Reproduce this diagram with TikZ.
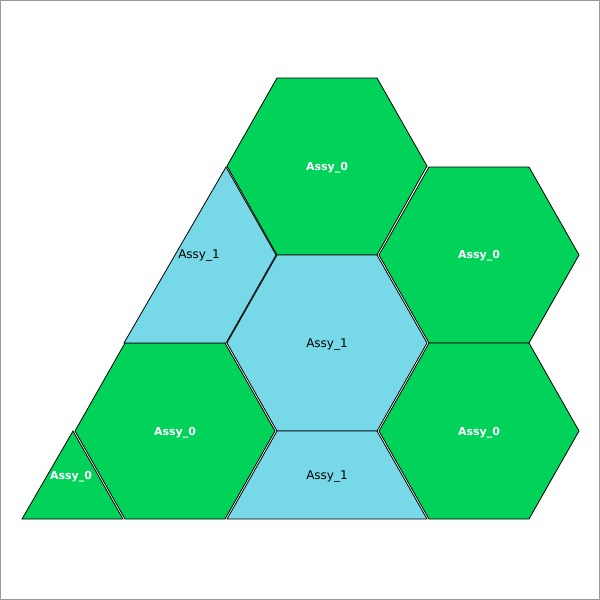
\documentclass[tikz,border=0pt]{standalone}
\usepackage{fontspec}
\setmainfont{DejaVu Sans}
\begin{document}
\begin{tikzpicture}[
  x=1pt, y=-1pt,
  fuel/.style={fill=assygreen, draw=black, line width=0.8pt, line join=miter},
  water/.style={fill=assyblue, draw=black, line width=0.8pt, line join=miter},
  lblw/.style={text=white, font=\fontsize{11}{13}\selectfont\bfseries},
  lblb/.style={text=black, font=\fontsize{12}{14}\selectfont}
]
  \definecolor{assygreen}{HTML}{00D25A}
  \definecolor{assyblue}{HTML}{77D9E8}
  \useasboundingbox (0,0) rectangle (600,600);
  \draw[gray!80, line width=1pt] (0.5,0.5) rectangle (599.5,599.5);

  % green assemblies
  \draw[fuel] (227,166) -- (277,78) -- (377,78) -- (427,166) -- (377,255) -- (277,255) -- cycle;
  \draw[fuel] (379,255) -- (429,167) -- (529,167) -- (579,255) -- (529,343) -- (429,343) -- cycle;
  \draw[fuel] (379,431) -- (429,343) -- (529,343) -- (579,431) -- (529,519) -- (429,519) -- cycle;
  \draw[fuel] (75,431) -- (125,343) -- (225,343) -- (275,431) -- (225,519) -- (125,519) -- cycle;
  \draw[fuel] (22,519) -- (73,431) -- (123,519) -- cycle;

  % blue assemblies
  \draw[water] (124,343) -- (226,167) -- (276,255) -- (226,343) -- cycle;
  \draw[water] (227,343) -- (277,255) -- (377,255) -- (427,343) -- (377,431) -- (277,431) -- cycle;
  \draw[water] (277,431) -- (377,431) -- (427,519) -- (227,519) -- cycle;

  \node[lblw] (top)  at (327,168) {Assy\_0};
  \node[lblw] (rup)  at (479,256) {Assy\_0};
  \node[lblw] (rlow) at (479,433) {Assy\_0};
  \node[lblw] (llow) at (175,433) {Assy\_0};
  \node[lblw] (tri)  at (71,477)  {Assy\_0};
  \node[lblb] (lup)  at (199,256) {Assy\_1};
  \node[lblb] (mid)  at (327,345) {Assy\_1};
  \node[lblb] (bot)  at (327,477) {Assy\_1};
\end{tikzpicture}
\end{document}
